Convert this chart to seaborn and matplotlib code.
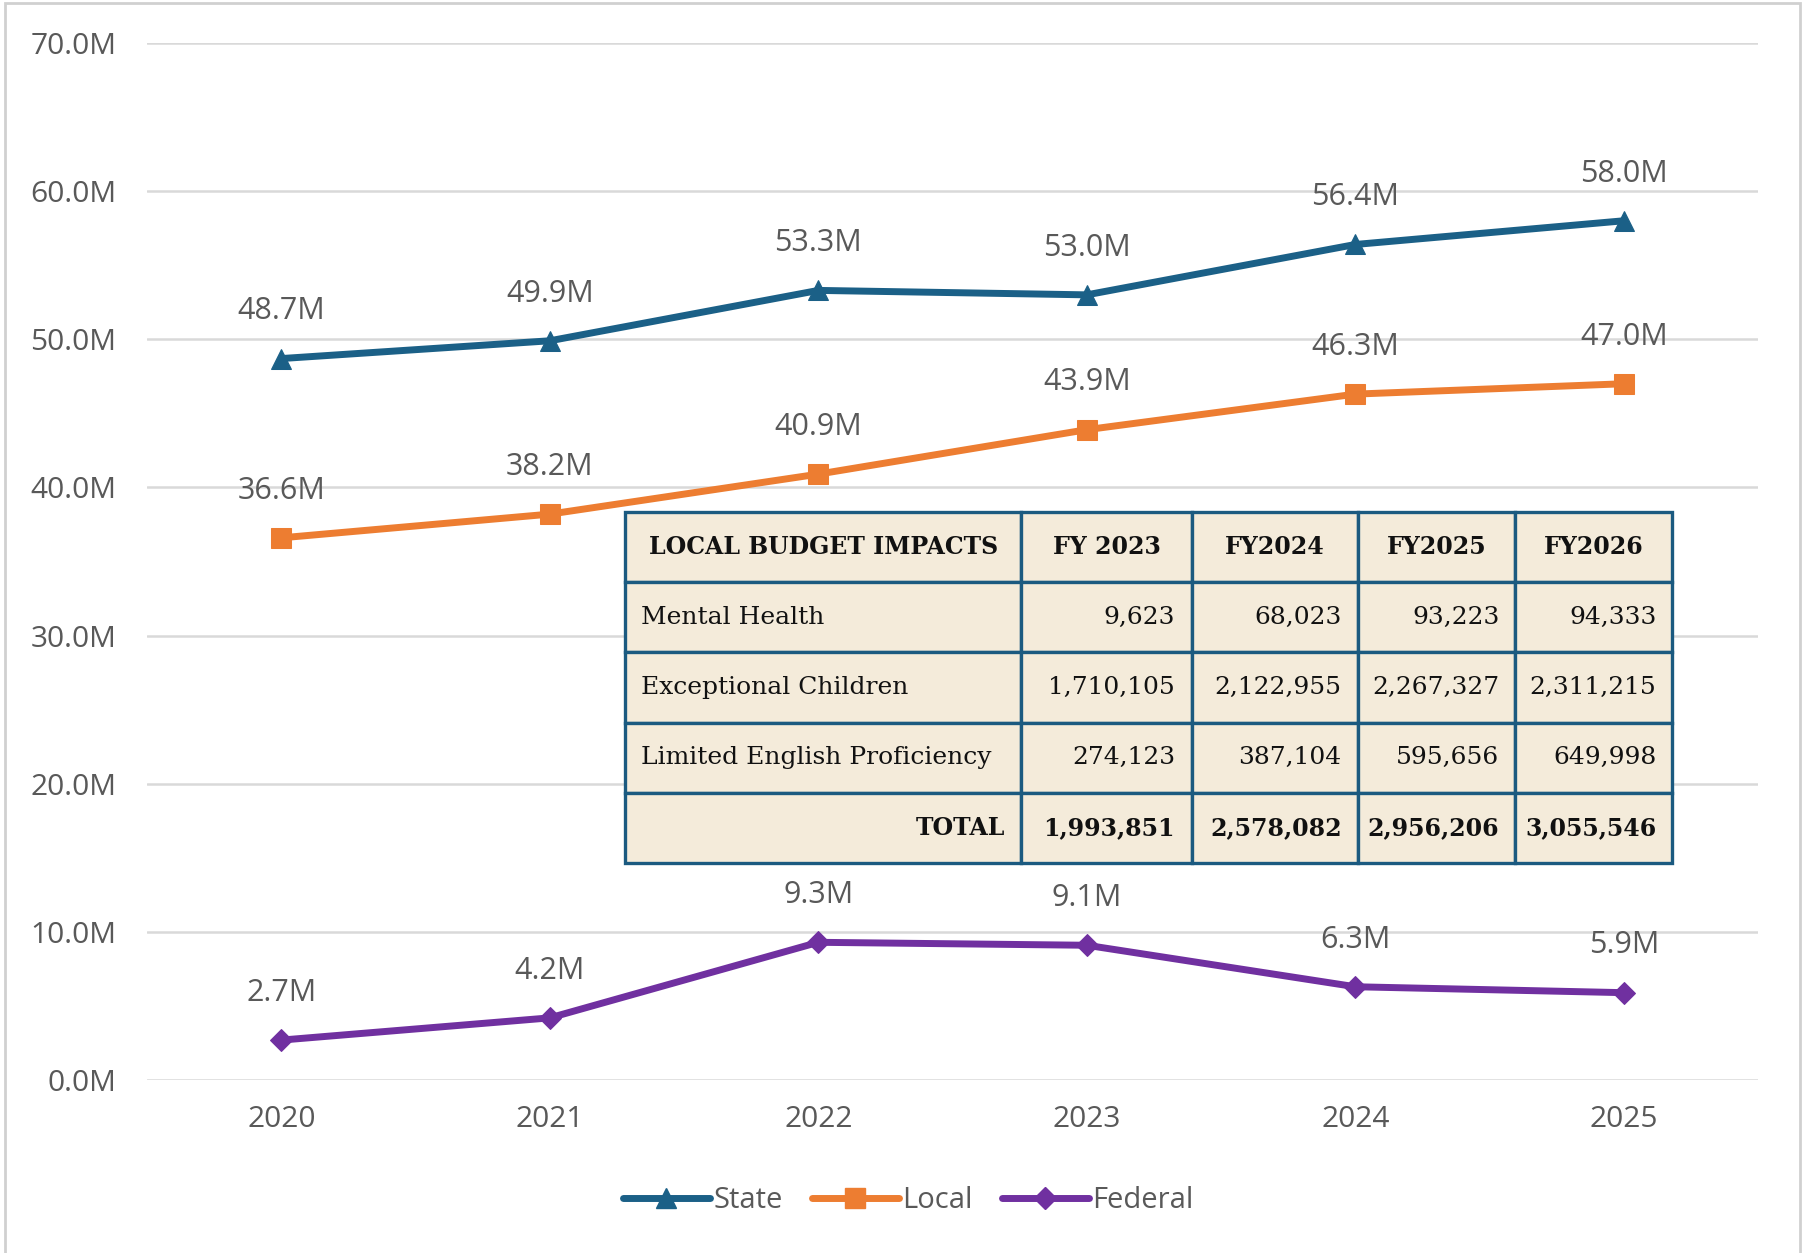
import numpy as np
import matplotlib
matplotlib.use("Agg")
import matplotlib.pyplot as plt
import matplotlib.patches as mpatches
from matplotlib.lines import Line2D
import pandas as pd
import seaborn as sns

# Chart data (millions)
years = [2020, 2021, 2022, 2023, 2024, 2025]
state = [48.7, 49.9, 53.3, 53.0, 56.4, 58.0]
local = [36.6, 38.2, 40.9, 43.9, 46.3, 47.0]
federal = [2.7, 4.2, 9.3, 9.1, 6.3, 5.9]

# Table data
table_header = ["LOCAL BUDGET IMPACTS", "FY 2023", "FY2024", "FY2025", "FY2026"]
table_rows = ["Mental Health", "Exceptional Children", "Limited English Proficiency"]
mental_health = ["9,623", "68,023", "93,223", "94,333"]
exceptional_children = ["1,710,105", "2,122,955", "2,267,327", "2,311,215"]
limited_english = ["274,123", "387,104", "595,656", "649,998"]
totals = ["1,993,851", "2,578,082", "2,956,206", "3,055,546"]

sns.set_theme(style="white")
plt.rcParams['font.family'] = ['Open Sans', 'DejaVu Sans']

gray = "#595959"
series = [
    ("State", state, "#1B6087", "^"),
    ("Local", local, "#ED7D31", "s"),
    ("Federal", federal, "#7030A0", "D"),
]

df = pd.DataFrame({"Year": years * 3,
                   "Value": [v * 1e6 for v in state + local + federal],
                   "Series": ["State"] * 6 + ["Local"] * 6 + ["Federal"] * 6})

fig = plt.figure(figsize=(18.05, 12.53), dpi=100)
ax = fig.add_axes([0.0815, 0.138, 0.8925, 0.8277])

for name, vals, color, mk in series:
    sub = df[df["Series"] == name]
    sns.lineplot(data=sub, x="Year", y="Value", ax=ax, color=color, linewidth=5,
                 marker=mk, markersize=14 if mk != "D" else 11,
                 markeredgecolor=color, legend=False, zorder=3)
    for x, v in zip(years, vals):
        ax.annotate(f"{v:.1f}M", (x, v * 1e6), xytext=(0, 34), textcoords="offset points",
                    ha="center", va="center", fontsize=22, color=gray)

ax.set_xlim(2019.5, 2025.5)
ax.set_ylim(0, 70e6)
ax.set_yticks(np.arange(0, 70e6 + 1, 10e6))
ax.set_yticklabels([f"{t/1e6:.1f}M" for t in np.arange(0, 70e6 + 1, 10e6)])
ax.set_xticks(years)
ax.set_xticklabels([str(y) for y in years])
ax.tick_params(axis="x", pad=18, labelsize=21.5, labelcolor=gray, length=0)
ax.tick_params(axis="y", pad=22, labelsize=21.5, labelcolor=gray, length=0)
ax.set_xlabel("")
ax.set_ylabel("")
ax.grid(axis="y", color="#D9D9D9", linewidth=1.8)
ax.set_axisbelow(True)
for s in ax.spines.values():
    s.set_visible(False)

# Table
cell_text = [table_header,
             [table_rows[0]] + mental_health,
             [table_rows[1]] + exceptional_children,
             [table_rows[2]] + limited_english,
             ["TOTAL"] + totals]
col_w = np.array([396, 171, 166, 157, 157], dtype=float)
col_w = col_w / col_w.sum()
tbl = ax.table(cellText=cell_text, colWidths=list(col_w),
               bbox=[0.2967, 0.2093, 0.650, 0.3385], zorder=5)
tbl.auto_set_font_size(False)
for (r, c), cell in tbl.get_celld().items():
    cell.set_facecolor("#F4EBDA")
    cell.set_edgecolor("#1B5A80")
    cell.set_linewidth(2.4)
    txt = cell.get_text()
    txt.set_fontfamily("DejaVu Serif")
    txt.set_color("#111111")
    if r == 0:
        cell.set_text_props(ha="center", fontweight="bold", fontsize=17)
        cell._loc = "center"
    elif r == 4:
        cell.set_text_props(ha="right", fontweight="bold", fontsize=17)
        cell._loc = "right"
    elif c == 0:
        cell._loc = "left"
        cell.set_text_props(ha="left", fontsize=18)
    else:
        cell._loc = "right"
        cell.set_text_props(ha="right", fontsize=18)
    cell.PAD = 0.04 if c == 0 else 0.1

# Legend
handles = [Line2D([0], [0], color=color, linewidth=5, marker=mk,
                  markersize=14 if mk != "D" else 11, markeredgecolor=color)
           for _, _, color, mk in series]
leg = fig.legend(handles, [s[0] for s in series], loc="center", bbox_to_anchor=(0.503, 0.042),
                 ncol=3, frameon=False, fontsize=21, handlelength=3.0, handletextpad=0.1,
                 columnspacing=1.0)
for t in leg.get_texts():
    t.set_color(gray)

# Outer frame
fig.patches.append(mpatches.Rectangle((0.003, -0.01), 0.994, 1.008, transform=fig.transFigure,
                                      fill=False, edgecolor="#D0D0D0", linewidth=2))

fig.savefig("out.png", dpi=100)
